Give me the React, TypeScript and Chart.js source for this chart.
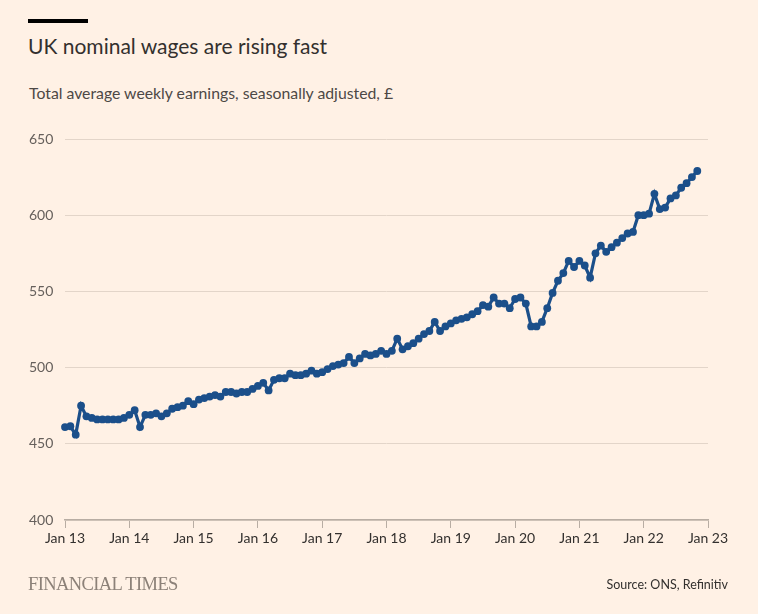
import React, { useEffect, useRef } from "react";
import { Chart, registerables } from "chart.js";

Chart.register(...registerables);

// Total average weekly earnings, seasonally adjusted (£), monthly from Jan 2013
const earnings2013 = [461, 461.5, 456, 475, 468, 467, 466, 466, 466, 466, 466, 467];
const earnings2014 = [469, 472, 461, 469, 469, 470, 468, 470, 473, 474, 475, 478];
const earnings2015 = [476, 479, 480, 481, 482, 481, 484, 484, 483, 484, 484, 486];
const earnings2016 = [488, 490, 485, 492, 493, 493, 496, 495, 495, 496, 498, 496];
const earnings2017 = [497, 499, 501, 502, 503, 507, 503, 506, 509, 508, 509, 511];
const earnings2018 = [509, 511, 519, 512, 514, 516, 519, 522, 524, 530, 524, 527];
const earnings2019 = [529, 531, 532, 533, 535, 537, 541, 540, 546, 542, 542, 539];
const earnings2020 = [545, 546, 542, 527, 527, 530, 539, 549, 557, 562, 570, 566];
const earnings2021 = [570, 567, 559, 575, 580, 576, 579, 582, 585, 588, 589, 600];
const earnings2022 = [600, 601, 614, 604, 605, 611, 613, 618, 621, 625, 629];

const xTickLabels = [
  "Jan 13", "Jan 14", "Jan 15", "Jan 16", "Jan 17", "Jan 18",
  "Jan 19", "Jan 20", "Jan 21", "Jan 22", "Jan 23",
];
const yTickValues = [400, 450, 500, 550, 600, 650];

const TITLE = "UK nominal wages are rising fast";
const SUBTITLE = "Total average weekly earnings, seasonally adjusted, £";
const SOURCE = "Source: ONS, Refinitiv";
const BRAND = "FINANCIAL TIMES";

const BG = "#FFF1E5";
const LINE = "#1B4F8A";
const FONT = "Lato, 'Noto Sans', sans-serif";

export default function App() {
  const canvasRef = useRef<HTMLCanvasElement | null>(null);

  useEffect(() => {
    document.body.style.margin = "0";
    document.body.style.background = BG;
    const canvas = canvasRef.current;
    if (!canvas) return;

    const allValues = [
      ...earnings2013, ...earnings2014, ...earnings2015, ...earnings2016,
      ...earnings2017, ...earnings2018, ...earnings2019, ...earnings2020,
      ...earnings2021, ...earnings2022,
    ];
    const points = allValues.map((v, i) => ({ x: i, y: v }));
    const monthsSpan = (xTickLabels.length - 1) * 12;

    const chart = new Chart(canvas, {
      type: "line",
      data: {
        datasets: [
          {
            data: points,
            borderColor: LINE,
            backgroundColor: LINE,
            borderWidth: 3.2,
            pointRadius: 3.9,
            pointBorderWidth: 0,
            pointBackgroundColor: LINE,
            tension: 0,
            clip: false,
          },
        ],
      },
      options: {
        animation: false,
        responsive: false,
        maintainAspectRatio: false,
        layout: { padding: { left: 29, top: 139, right: 50, bottom: 54 } },
        plugins: { legend: { display: false }, tooltip: { enabled: false } },
        scales: {
          x: {
            type: "linear",
            min: 0,
            max: monthsSpan,
            afterBuildTicks: (scale: any) => {
              scale.ticks = xTickLabels.map((_, i) => ({ value: i * 12 }));
            },
            afterFit: (scale: any) => {
              scale.height = 40;
            },
            ticks: {
              autoSkip: false,
              maxRotation: 0,
              padding: 2,
              color: "#33302E",
              font: { family: FONT, size: 14 },
              callback: (v: any) => xTickLabels[Math.round(Number(v) / 12)] ?? "",
            },
            grid: {
              drawOnChartArea: false,
              drawTicks: true,
              tickLength: 8,
              color: "#B8ADA3",
              lineWidth: 1,
            },
            border: { display: true, color: "#B8ADA3", width: 1.5 },
          },
          y: {
            min: yTickValues[0],
            max: yTickValues[yTickValues.length - 1],
            afterBuildTicks: (scale: any) => {
              scale.ticks = yTickValues.map((v) => ({ value: v }));
            },
            afterFit: (scale: any) => {
              scale.width = 36;
            },
            ticks: {
              crossAlign: "far",
              padding: 0,
              color: "#66605C",
              font: { family: FONT, size: 14 },
            },
            grid: {
              drawTicks: false,
              color: "#E3D5C9",
              lineWidth: 1,
            },
            border: { display: false },
          },
        },
      },
    });
    return () => chart.destroy();
  }, []);

  return (
    <div style={{ position: "relative", width: 758, height: 614, background: BG, overflow: "hidden" }}>
      <div style={{ position: "absolute", left: 28, top: 19, width: 60, height: 4, background: "#000" }} />
      <div
        style={{
          position: "absolute", left: 28, top: 33, fontFamily: FONT, fontSize: 21,
          color: "#33302E", lineHeight: "26px", whiteSpace: "nowrap",
        }}
      >
        {TITLE}
      </div>
      <div
        style={{
          position: "absolute", left: 29, top: 83, fontFamily: FONT, fontSize: 15.8,
          color: "#4D4845", lineHeight: "20px", whiteSpace: "nowrap",
        }}
      >
        {SUBTITLE}
      </div>
      <canvas ref={canvasRef} width={758} height={614} style={{ position: "absolute", left: 0, top: 0 }} />
      <div
        style={{
          position: "absolute", left: 28, top: 573, fontFamily: "'Liberation Serif', serif",
          fontSize: 18.5, color: "#8C8178", lineHeight: "22px", whiteSpace: "nowrap",
          letterSpacing: "-0.6px",
        }}
      >
        {BRAND}
      </div>
      <div
        style={{
          position: "absolute", right: 30, top: 576, fontFamily: FONT, fontSize: 12.5,
          color: "#33302E", lineHeight: "18px", whiteSpace: "nowrap",
        }}
      >
        {SOURCE}
      </div>
    </div>
  );
}
